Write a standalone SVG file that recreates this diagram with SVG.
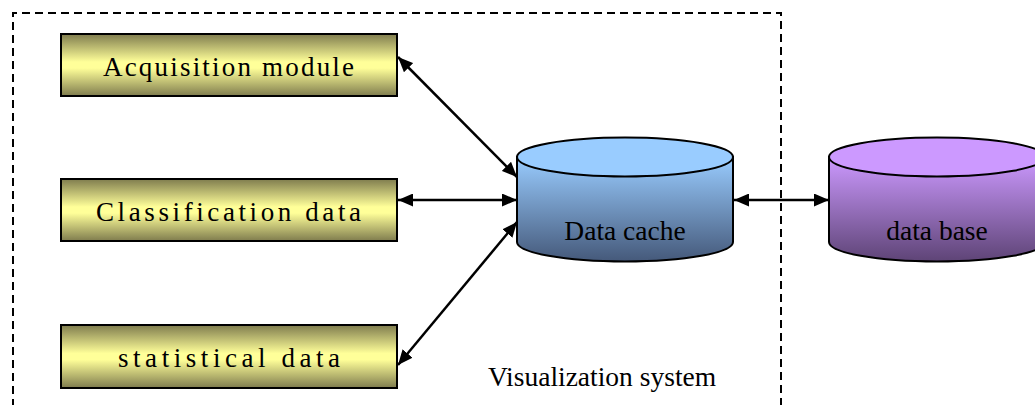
<svg xmlns="http://www.w3.org/2000/svg" width="1035" height="405" viewBox="0 0 1035 405">
  <defs>
    <linearGradient id="boxFill" x1="0" y1="0" x2="0" y2="1">
      <stop offset="0" stop-color="#7f7c4e"/>
      <stop offset="0.45" stop-color="#ffff99"/>
      <stop offset="0.55" stop-color="#ffff99"/>
      <stop offset="1" stop-color="#7f7c4e"/>
    </linearGradient>
    <linearGradient id="cacheBody" x1="0" y1="0" x2="0" y2="1">
      <stop offset="0" stop-color="#99ccff"/>
      <stop offset="1" stop-color="#45597a"/>
    </linearGradient>
    <linearGradient id="dbBody" x1="0" y1="0" x2="0" y2="1">
      <stop offset="0" stop-color="#cc99ff"/>
      <stop offset="1" stop-color="#5e4476"/>
    </linearGradient>
    <marker id="head" viewBox="0 0 15 13" markerWidth="15" markerHeight="13" refX="15" refY="6.5" orient="auto-start-reverse" markerUnits="userSpaceOnUse">
      <path d="M0,0 L15,6.5 L0,13 Z" fill="#000"/>
    </marker>
  </defs>
  <style>
    .frame { fill: none; stroke: #000; stroke-width: 2; stroke-dasharray: 8 5; }
    .box { fill: url(#boxFill); stroke: #000; stroke-width: 2; }
    .label { font-family: "Liberation Serif", "Times New Roman", serif; font-size: 27px; fill: #000; }
    .serif { font-family: "Liberation Serif", "Times New Roman", serif; font-size: 27.5px; fill: #000; }
    .cyl { stroke: #000; stroke-width: 2; }
    .link { stroke: #000; stroke-width: 2.5; fill: none; marker-start: url(#head); marker-end: url(#head); }
  </style>
  <rect width="1035" height="405" fill="#fff"/>

  <!-- system boundary -->
  <g id="visualization-system">
    <path class="frame" d="M13,420 L13,13 L781,13 L781,420"/>
    <text class="serif" x="602" y="386" text-anchor="middle">Visualization system</text>
  </g>

  <g id="acquisition-module">
    <rect class="box" x="61" y="34" width="336" height="62"/>
    <text class="label" x="103" y="76" textLength="251" lengthAdjust="spacing">Acquisition module</text>
  </g>

  <g id="classification-data">
    <rect class="box" x="61" y="179" width="336" height="62"/>
    <text class="label" x="96" y="221" textLength="265" lengthAdjust="spacing">Classification data</text>
  </g>

  <g id="statistical-data">
    <rect class="box" x="61" y="325" width="336" height="63"/>
    <text class="label" x="118" y="367" textLength="222" lengthAdjust="spacing">statistical data</text>
  </g>

  <g id="data-cache">
    <path class="cyl" fill="url(#cacheBody)" d="M517,157 L517,242 A108,19.5 0 0 0 733,242 L733,157 Z"/>
    <ellipse class="cyl" fill="#99ccff" cx="625" cy="157" rx="108" ry="19.5"/>
    <text class="serif" x="625" y="240" text-anchor="middle">Data cache</text>
  </g>

  <g id="data-base">
    <path class="cyl" fill="url(#dbBody)" d="M829,157 L829,242 A108,19.5 0 0 0 1045,242 L1045,157 Z"/>
    <ellipse class="cyl" fill="#cc99ff" cx="937" cy="157" rx="108" ry="19.5"/>
    <text class="serif" x="937" y="240" text-anchor="middle">data base</text>
  </g>

  <g id="connectors">
    <line class="link" x1="398" y1="57" x2="517" y2="177"/>
    <line class="link" x1="398" y1="200" x2="517" y2="200"/>
    <line class="link" x1="517" y1="222" x2="398" y2="365"/>
    <line class="link" x1="734" y1="200" x2="829" y2="200"/>
  </g>
</svg>
